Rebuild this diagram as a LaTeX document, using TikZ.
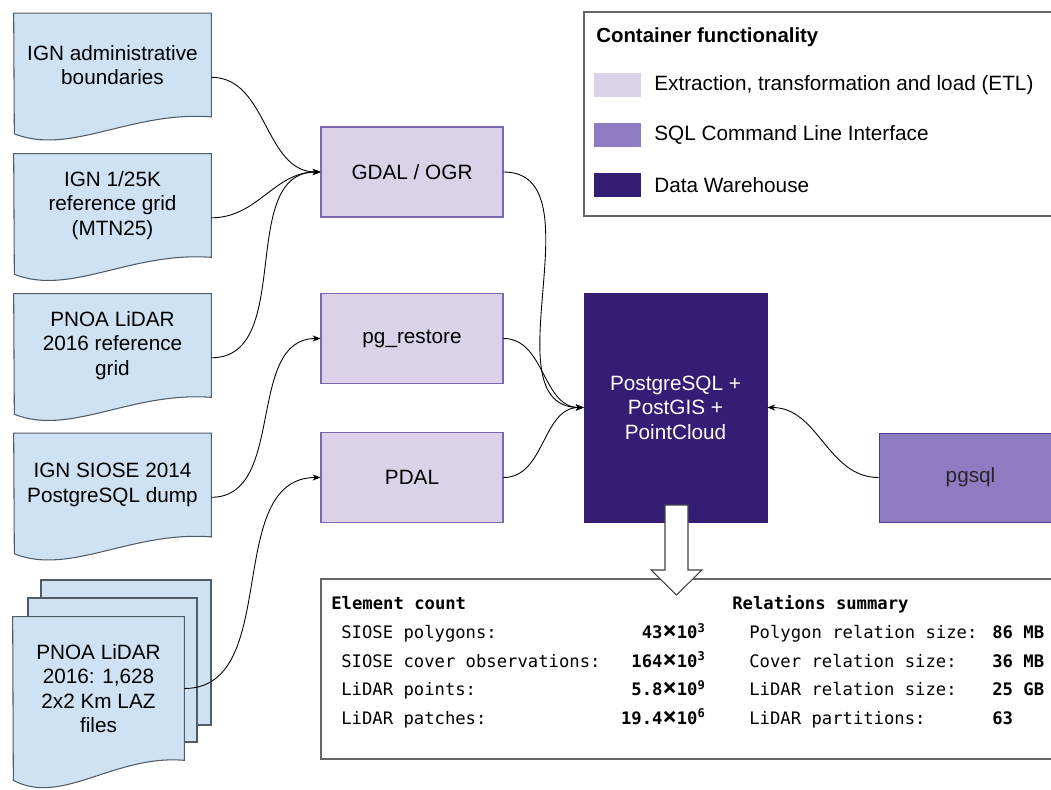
\documentclass[tikz,border=0pt]{standalone}
\usepackage{fontspec}
\setmainfont{Liberation Sans}
\newfontfamily\monofont{DejaVu Sans Mono}
\usetikzlibrary{arrows.meta,backgrounds}
\definecolor{docfill}{HTML}{CFE2F3}
\definecolor{docdraw}{HTML}{4F5B66}
\definecolor{etlfill}{HTML}{D9D2E9}
\definecolor{etldraw}{HTML}{7A68B0}
\definecolor{clifill}{HTML}{8E7CC3}
\definecolor{clidraw}{HTML}{4B3A8C}
\definecolor{dwfill}{HTML}{351C75}
\definecolor{boxdraw}{HTML}{666666}
\newcommand\bigtimes{{\fontsize{13.5}{12}\selectfont×}}
\begin{document}
\begin{tikzpicture}[x=0.02cm,y=-0.02cm,
	every node/.style={font=\fontsize{11.8}{14}\selectfont},
	docnode/.style={minimum width=3.94cm,minimum height=2.06cm,align=center,inner sep=0pt},
	docline/.style={draw=docdraw,fill=docfill,line width=.6pt},
	etl/.style={draw=etldraw,fill=etlfill,minimum width=3.64cm,minimum height=1.8cm,line width=.6pt},
	flow/.style={-{Stealth[length=4.5pt,width=3.5pt]},line width=.5pt},
	boxline/.style={draw=boxdraw,line width=.8pt},
	swatch/.style={minimum width=.94cm,minimum height=.48cm,inner sep=0pt},
	legtext/.style={anchor=west,inner sep=0pt},
	mono/.style={font=\monofont\fontsize{9.8}{12}\selectfont,text height=1.6ex,text depth=.4ex,inner sep=0pt},
	monobold/.style={font=\monofont\bfseries\fontsize{9.8}{12}\selectfont,text height=1.6ex,text depth=.4ex,inner sep=0pt}]
	\useasboundingbox (0,0) rectangle (1051,790);
	\clip (0,0) rectangle (1051,790);
	% input data
	\node[docnode] (adm) at (112.5,65) {IGN administrative\\boundaries};
	\node[docnode] (mtn) at (112.5,205.5) {IGN 1/25K\\reference grid\\(MTN25)};
	\node[docnode] (pnoagrid) at (112.5,345.5) {PNOA LiDAR\\2016 reference\\grid};
	\node[docnode] (siose) at (112.5,485) {IGN SIOSE 2014\\PostgreSQL dump};
	\node[docnode,minimum width=3.42cm,minimum height=2.86cm] (laz) at (98.5,688.5) {PNOA LiDAR\\2016: 1,628\\2x2 Km LAZ\\files};
	\begin{scope}[on background layer]
		\filldraw[docline] (41,580) rectangle (211,725);
		\filldraw[docline] (28,598) rectangle (197,742);
		\foreach \docname/\docw/\docdy in {adm/197/17,mtn/197/17,pnoagrid/197/17,siose/197/17,laz/171/20}
			\filldraw[docline] (\docname.north west) -- (\docname.north east) -- (\docname.south east)
				.. controls +(-0.41*\docw,-6) and +(0.284*\docw,1.3*\docdy) .. ++(-\docw,\docdy) -- cycle;
	\end{scope}
	% containers
	\node[etl] (gdal) at (412,172) {GDAL / OGR};
	\node[etl] (restore) at (412,338.5) {pg\_restore};
	\node[etl] (pdal) at (412,477.5) {PDAL};
	\node[draw=dwfill,fill=dwfill,text=white,minimum width=3.66cm,minimum height=4.58cm,align=center] (dw) at (675.5,407.5) {PostgreSQL +\\PostGIS +\\PointCloud};
	\node[draw=clidraw,fill=clifill,text=black!85,minimum width=3.66cm,minimum height=1.78cm] (cli) at (970.5,477.5) {pgsql};
	% connectors
	\draw[flow] ([yshift=-7pt]adm.east) to[out=0,in=180] (gdal.west);
	\draw[flow] ([yshift=-7pt]mtn.east) to[out=0,in=180] (gdal.west);
	\draw[flow] ([yshift=-7pt]pnoagrid.east) to[out=0,in=180] (gdal.west);
	\draw[flow] ([yshift=-7pt]siose.east) to[out=0,in=180] (restore.west);
	\draw[flow] (laz.east) to[out=0,in=180] (pdal.west);
	\draw[flow] (gdal.east) to[out=0,in=180] (dw.west);
	\draw[flow] (restore.east) to[out=0,in=180] (dw.west);
	\draw[flow] (pdal.east) to[out=0,in=180] (dw.west);
	\draw[flow] (cli.west) to[out=180,in=0] (dw.east);
	% legend
	\draw[boxline] (584,12) rectangle (1070,216);
	\node[legtext,font=\fontsize{11.6}{14}\selectfont\bfseries] (legtitle) at (596,37) {Container functionality};
	\node[swatch,fill=etlfill] (swetl) at (617.5,85) {};
	\node[swatch,fill=clifill] (swcli) at (617.5,135) {};
	\node[swatch,fill=dwfill] (swdw) at (617.5,185) {};
	\node[legtext] (legetl) at (654,85) {Extraction, transformation and load (ETL)};
	\node[legtext] (legcli) at (654,135) {SQL Command Line Interface};
	\node[legtext] (legdw) at (654,185) {Data Warehouse};
	% summary
	\draw[boxline] (321,579) rectangle (1070,759);
	\filldraw[fill=white,draw=black!75,line width=.6pt] (665,505) -- (688,505) -- (688,570) -- (702,570)
		-- (676.5,595) -- (651,570) -- (665,570) -- cycle;
	\node[monobold,anchor=west] (ectitle) at (331,604) {Element count};
	\node[monobold,anchor=west] (rstitle) at (732,604) {Relations summary};
	\foreach \i/\lab/\val/\y in {1/SIOSE polygons:/43\bigtimes10\textsuperscript{3}/633,
		2/SIOSE cover observations:/164\bigtimes10\textsuperscript{3}/661.5,
		3/LiDAR points:/5.8\bigtimes10\textsuperscript{9}/690,
		4/LiDAR patches:/19.4\bigtimes10\textsuperscript{6}/718.5} {
		\node[mono,anchor=west] (ecl\i) at (341,\y) {\lab};
		\node[monobold,anchor=east] (ecv\i) at (706,\y) {\val};
	}
	\foreach \i/\lab/\val/\y in {1/Polygon relation size:/86 MB/633,
		2/Cover relation size:/36 MB/661.5,
		3/LiDAR relation size:/25 GB/690,
		4/LiDAR partitions:/63/718.5} {
		\node[mono,anchor=west] (rsl\i) at (749,\y) {\lab};
		\node[monobold,anchor=west] (rsv\i) at (992,\y) {\val};
	}
\end{tikzpicture}
\end{document}
